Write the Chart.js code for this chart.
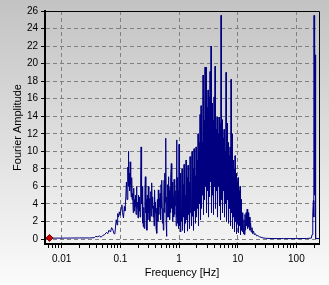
<!DOCTYPE html>
<html>
<head>
  <title>Fourier Spectrum</title>
  <script src="https://cdn.jsdelivr.net/npm/chart.js"></script>
  <style>
    body { margin: 0; }
    #spec { display: block; background: linear-gradient(#c3c3c3, #fbfbfb); }
  </style>
</head>
<body>
  <canvas id="spec" width="329" height="285"></canvas>

  <script>
    // low end, up to ~0.13 Hz
    const freqLow = [0.0062, 0.01, 0.02, 0.03, 0.036, 0.038, 0.041, 0.044, 0.047, 0.05,
      0.054, 0.058, 0.061, 0.064, 0.068, 0.071, 0.075, 0.078, 0.081, 0.085,
      0.088, 0.09, 0.093, 0.096, 0.099, 0.103, 0.106, 0.109, 0.113, 0.117,
      0.12, 0.124, 0.127, 0.13];
    const ampLow = [0.1, 0.1, 0.12, 0.12, 0.15, 0.3, 0.25, 0.35, 0.2, 0.4,
      0.5, 0.75, 0.6, 1.0, 0.8, 1.3, 1.0, 0.6, 0.7, 2.2,
      1.6, 2.9, 2.5, 3.1, 2.7, 3.5, 3.9, 3.0, 2.4, 3.7,
      3.2, 4.8, 6.5, 4.5];

    // 0.13 - 1 Hz
    const freqMid = [0.134, 0.136, 0.137, 0.139, 0.142, 0.144, 0.147, 0.150, 0.153, 0.156,
      0.159, 0.162, 0.166, 0.169, 0.172, 0.175, 0.178, 0.181, 0.185, 0.188,
      0.192, 0.196, 0.200, 0.204, 0.208, 0.212, 0.217, 0.222, 0.226, 0.230,
      0.234, 0.238, 0.242, 0.246, 0.251, 0.256, 0.262, 0.267, 0.272, 0.278,
      0.283, 0.288, 0.294, 0.300, 0.306, 0.312, 0.318, 0.324, 0.330, 0.336,
      0.342, 0.348, 0.355, 0.362, 0.369, 0.376, 0.383, 0.390, 0.398, 0.406,
      0.414, 0.420, 0.428, 0.436, 0.444, 0.452, 0.460, 0.468, 0.476, 0.485,
      0.494, 0.503, 0.512, 0.522, 0.532, 0.541, 0.550, 0.558, 0.567, 0.576,
      0.586, 0.594, 0.603, 0.612, 0.621, 0.630, 0.640, 0.650, 0.660, 0.670,
      0.680, 0.692, 0.703, 0.714, 0.726, 0.740, 0.752, 0.764, 0.776, 0.788,
      0.800, 0.812, 0.825, 0.838, 0.852, 0.866, 0.880, 0.894, 0.908, 0.922,
      0.936, 0.950, 0.964, 0.978, 0.992];
    const ampMid = [8.2, 6.0, 10.0, 6.5, 7.5, 5.5, 8.8, 6.2, 4.8, 7.0,
      4.5, 5.2, 3.0, 5.8, 3.2, 4.5, 3.7, 5.0, 2.8, 6.0,
      3.5, 4.2, 2.4, 5.0, 3.2, 4.8, 2.5, 6.5, 10.5, 4.0,
      6.0, 1.8, 4.8, 1.4, 3.6, 1.2, 5.5, 7.1, 3.0, 4.5,
      1.0, 5.0, 2.2, 6.0, 3.0, 4.6, 2.0, 3.3, 5.4, 2.6,
      6.4, 3.5, 4.8, 2.5, 3.8, 1.5, 5.6, 3.0, 4.2, 1.2,
      3.5, 0.65, 4.5, 2.0, 5.6, 2.8, 4.6, 3.7, 5.2, 2.2,
      6.2, 3.5, 6.7, 1.8, 3.5, 1.0, 5.0, 6.7, 3.0, 7.5,
      4.2, 11.5, 2.0, 0.3, 4.8, 2.5, 6.2, 3.0, 7.1, 2.5,
      5.5, 2.2, 6.0, 3.0, 7.0, 8.6, 3.5, 6.5, 2.0, 5.5,
      4.8, 2.5, 6.8, 2.8, 6.4, 3.8, 5.5, 1.5, 11.3, 2.5,
      7.0, 1.8, 3.3, 5.5, 1.2];

    // 1 - 12.5 Hz, the dense part
    const freqHigh = [1.00, 1.02, 1.04, 1.06, 1.08, 1.10, 1.125, 1.147, 1.17, 1.193,
      1.217, 1.24, 1.265, 1.29, 1.316, 1.342, 1.369, 1.396, 1.423, 1.451,
      1.48, 1.51, 1.54, 1.57, 1.60, 1.633, 1.665, 1.698, 1.732, 1.766,
      1.801, 1.837, 1.873, 1.91, 1.948, 1.987, 2.026, 2.066, 2.107, 2.149,
      2.191, 2.234, 2.279, 2.324, 2.37, 2.417, 2.465, 2.514, 2.564, 2.615,
      2.666, 2.719, 2.773, 2.828, 2.884, 2.941, 2.999, 3.059, 3.119, 3.181,
      3.244, 3.308, 3.374, 3.441, 3.509, 3.579, 3.649, 3.722, 3.795, 3.871,
      3.947, 4.026, 4.105, 4.186, 4.269, 4.354, 4.44, 4.528, 4.618, 4.71,
      4.802, 4.898, 4.995, 5.094, 5.194, 5.298, 5.402, 5.51, 5.618, 5.73,
      5.843, 5.959, 6.077, 6.198, 6.32, 6.446, 6.573, 6.704, 6.836, 6.972,
      7.11, 7.251, 7.394, 7.541, 7.69, 7.843, 7.998, 8.157, 8.318, 8.484,
      8.651, 8.823, 8.997, 9.176, 9.357, 9.543, 9.731, 9.925, 10.12, 10.32,
      10.53, 10.74, 10.95, 11.17, 11.39, 11.61, 11.84, 12.08, 12.31, 12.56];
    const ampHigh = [10.8, 1.5, 7.5, 0.8, 5.5, 2.0, 8.0, 1.0, 6.2, 2.5,
      8.5, 0.7, 5.0, 1.8, 9.0, 2.2, 7.0, 0.9, 8.4, 2.8,
      6.5, 1.2, 9.4, 3.0, 7.8, 1.5, 10.0, 2.6, 8.0, 1.0,
      10.3, 3.2, 7.2, 1.8, 10.5, 2.5, 9.0, 3.5, 12.0, 1.5,
      11.0, 4.0, 14.2, 2.2, 15.2, 3.5, 11.0, 5.0, 18.7, 2.8,
      13.5, 4.5, 19.6, 6.0, 19.6, 3.0, 15.0, 5.5, 17.0, 2.5,
      16.2, 4.8, 19.1, 6.5, 22.0, 3.0, 15.5, 5.0, 13.5, 2.8,
      16.2, 6.0, 19.7, 3.5, 12.5, 5.5, 13.9, 2.5, 12.0, 6.0,
      13.9, 3.8, 13.2, 2.2, 25.5, 4.5, 13.6, 3.0, 11.5, 5.5,
      12.5, 2.5, 10.0, 4.0, 19.0, 2.0, 13.2, 4.5, 11.0, 1.8,
      9.5, 3.5, 10.5, 1.5, 18.2, 3.0, 12.0, 1.2, 9.0, 2.5,
      8.0, 0.8, 9.5, 2.0, 7.5, 0.6, 6.5, 1.8, 7.0, 0.7,
      5.5, 1.5, 6.0, 0.5, 4.5, 1.0, 3.0, 0.8, 2.5, 0.6];

    // tail and the spike near 200 Hz
    const freqTail = [12.8, 13.0, 13.3, 13.6, 13.9, 14.2, 14.5, 14.8, 15.1, 15.4,
      15.8, 16.2, 16.6, 17.0, 17.5, 18.0, 18.6, 19.2, 20, 21,
      22, 23.5, 25, 27, 30, 40, 60, 100, 150, 180,
      185, 189, 192, 195, 198, 200, 203, 206, 208, 210,
      212, 216, 243];
    const ampTail = [2.2, 0.5, 2.8, 1.0, 3.0, 1.5, 3.4, 1.2, 3.0, 1.4,
      2.5, 1.0, 1.8, 0.8, 1.3, 0.6, 0.9, 0.5, 0.6, 0.35,
      0.4, 0.25, 0.2, 0.12, 0.08, 0.05, 0.05, 0.05, 0.06, 0.1,
      0.5, 1.5, 3.0, 4.4, 2.5, 25.5, 5.0, 22.0, 18.0, 21.0,
      0.3, 0.05, 0.05];

    const markerFreq = [0.0062];
    const markerAmp = [0.12];

    const xLabels = [0.01, 0.1, 1, 10, 100];
    const yTicks = [0, 2, 4, 6, 8, 10, 12, 14, 16, 18, 20, 22, 24, 26];

    const freqs = freqLow.concat(freqMid, freqHigh, freqTail);
    const amps = ampLow.concat(ampMid, ampHigh, ampTail);

    // minor ticks 2..9 per decade
    const xTicks = [];
    [0.001, 0.01, 0.1, 1, 10, 100].forEach(d => {
      xTicks.push(d);
      [2, 3, 4, 5, 6, 7, 8, 9].forEach(m => xTicks.push(+(d * m).toPrecision(3)));
    });
    const xMin = 0.0052, xMax = 243;

    Chart.defaults.font.family = '"Liberation Sans", Arial, sans-serif';
    Chart.defaults.font.size = 10;
    Chart.defaults.color = '#000';

    const frame = {
      id: 'frame',
      afterDraw(c) {
        const a = c.chartArea, ctx = c.ctx;
        ctx.save();
        ctx.strokeStyle = '#000';
        ctx.lineWidth = 1;
        ctx.beginPath();
        ctx.moveTo(a.left, a.top + 0.5);
        ctx.lineTo(a.right + 0.5, a.top + 0.5);
        ctx.lineTo(a.right + 0.5, a.bottom);
        ctx.stroke();
        ctx.restore();
      }
    };

    new Chart(document.getElementById('spec'), {
      type: 'line',
      data: {
        datasets: [{
          data: markerFreq.map((f, i) => ({ x: f, y: markerAmp[i] })),
          showLine: false,
          pointStyle: 'rectRot',
          pointRadius: 3.5,
          backgroundColor: '#d00000',
          borderColor: '#700000',
          borderWidth: 1
        }, {
          data: freqs.map((f, i) => ({ x: f, y: amps[i] })),
          borderColor: '#000080',
          borderWidth: 1,
          pointRadius: 0,
          tension: 0,
          fill: false
        }]
      },
      options: {
        responsive: false,
        animation: false,
        layout: { padding: { top: 11, right: 10, left: 0, bottom: 0 } },
        plugins: { legend: { display: false }, tooltip: { enabled: false } },
        scales: {
          x: {
            type: 'logarithmic',
            min: xMin,
            max: xMax,
            afterBuildTicks: s => {
              s.ticks = xTicks.filter(v => v >= xMin && v <= xMax).map(v => ({ value: v }));
            },
            afterFit: s => { s.height = 41; },
            ticks: {
              autoSkip: false,
              maxRotation: 0,
              padding: 5,
              callback: v => xLabels.includes(v) ? String(v) : ''
            },
            grid: {
              color: c => (c.tick && xLabels.includes(c.tick.value)) ? '#808080' : 'rgba(0,0,0,0)',
              tickColor: '#000',
              tickLength: 4
            },
            border: { color: '#000', width: 2, dash: [4, 3] },
            title: {
              display: true,
              text: 'Frequency [Hz]',
              font: { size: 11 },
              padding: { top: 0, bottom: 5 }
            }
          },
          y: {
            min: -0.57,
            max: 26,
            afterBuildTicks: s => { s.ticks = yTicks.map(v => ({ value: v })); },
            afterFit: s => { s.width = 45; },
            ticks: { padding: 3 },
            grid: { color: '#808080', tickColor: '#000', tickLength: 4 },
            border: { color: '#000', width: 2, dash: [4, 3] },
            title: {
              display: true,
              text: 'Fourier Amplitude',
              font: { size: 11 },
              padding: { top: 11, bottom: 0 }
            }
          }
        }
      },
      plugins: [frame]
    });
  </script>
</body>
</html>
